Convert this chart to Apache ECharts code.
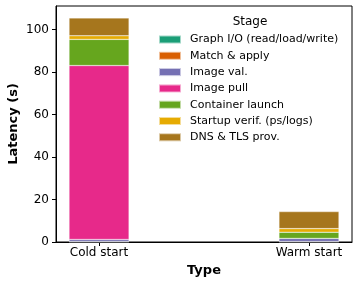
<!DOCTYPE html>
<html><head><meta charset="utf-8">
<script src="https://cdn.jsdelivr.net/npm/echarts@6/dist/echarts.min.js"></script>
<style>html,body{margin:0;padding:0;background:#fff}#c{width:360px;height:286px}</style>
</head><body><div id="c"></div>
<script>
const categories = ['Cold start', 'Warm start'];
const stages = ['Graph I/O (read/load/write)', 'Match & apply', 'Image val.', 'Image pull', 'Container launch', 'Startup verif. (ps/logs)', 'DNS & TLS prov.'];
const coldValues = [0.1, 0.1, 1.0, 81.8, 12.3, 1.7, 8.4];
const warmValues = [0.1, 0.1, 1.5, 0.0, 2.9, 1.7, 8.0];
const colors = ['#1b9e77', '#d95f02', '#7570b3', '#e7298a', '#66a61e', '#e6ab02', '#a6761d'];
const yTicks = [0, 20, 40, 60, 80, 100];

const font = 'DejaVu Sans';
const chart = echarts.init(document.getElementById('c'), null, {renderer: 'canvas'});
const series = stages.map((s, i) => ({
  name: s, type: 'bar', stack: 'total', barWidth: 60,
  encode: {x: 1, y: 0},
  itemStyle: {color: colors[i], borderColor: 'rgba(255,255,255,0.6)', borderWidth: 0.5},
  data: [[coldValues[i], 0], [warmValues[i], 1]]
}));
chart.setOption({
  animation: false,
  textStyle: {fontFamily: font},
  grid: {left: 56, right: 8, top: 6, bottom: 44, show: true, borderColor: '#000', borderWidth: 1, containLabel: false, outerBoundsMode: 'none'},
  xAxis: {
    type: 'value', min: -0.205, max: 1.205,
    name: 'Type', nameLocation: 'middle', nameGap: 22, nameMoveOverlap: false,
    nameTextStyle: {fontFamily: font, fontSize: 13, fontWeight: 'bold', color: '#000'},
    axisLine: {show: true, onZero: false, lineStyle: {color: '#000', width: 1}},
    axisTick: {show: true, length: 4, lineStyle: {color: '#000'}, customValues: [0, 1]},
    axisLabel: {customValues: [0, 1], formatter: v => categories[Math.round(v)], fontFamily: font, fontSize: 12, color: '#000', margin: 5},
    splitLine: {show: false}
  },
  yAxis: {
    type: 'value', min: 0, max: 111,
    name: 'Latency (s)', nameLocation: 'middle', nameGap: 36, nameMoveOverlap: false,
    nameTextStyle: {fontFamily: font, fontSize: 13, fontWeight: 'bold', color: '#000'},
    axisLine: {show: true, onZero: false, lineStyle: {color: '#000', width: 1}},
    axisTick: {show: true, length: 4, lineStyle: {color: '#000'}, customValues: yTicks},
    axisLabel: {customValues: yTicks, fontFamily: font, fontSize: 12, color: '#000', margin: 7},
    splitLine: {show: false}
  },
  legend: {
    orient: 'vertical', left: 158, top: 33, padding: 0, itemWidth: 22, itemHeight: 8, itemGap: 3.3,
    icon: 'rect',
    textStyle: {fontFamily: font, fontSize: 11, color: '#000', lineHeight: 13, padding: [0, 0, 0, 4]},
    data: stages
  },
  graphic: [{type: 'text', x: 250, y: 22, style: {text: 'Stage', font: '12px "DejaVu Sans"', fill: '#000', align: 'center', verticalAlign: 'middle'}}],
  series: series
});
</script></body></html>
